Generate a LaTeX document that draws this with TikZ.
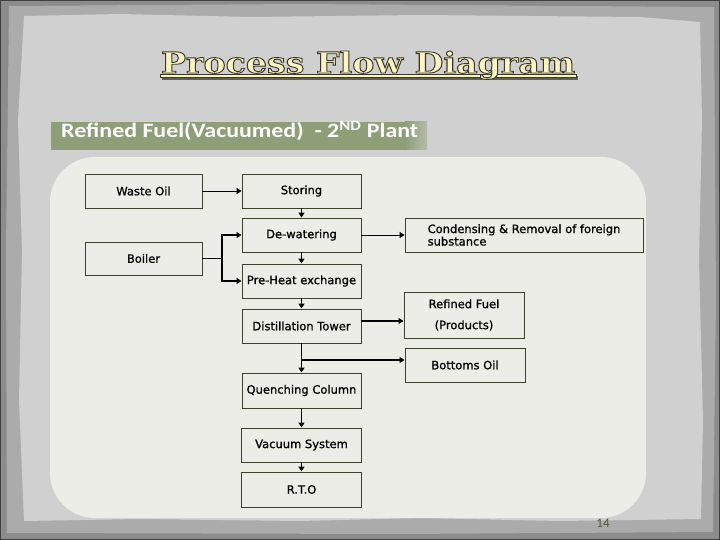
\documentclass[tikz,border=0pt]{standalone}
\usepackage{fontspec}
\usepackage{graphicx}
\setmainfont{DejaVu Sans}
\newfontfamily\boxfont{DejaVu Sans}[FakeBold=1]
\newfontfamily\titlefont{DejaVu Serif}
\newfontfamily\bannerfont{Carlito}
\usetikzlibrary{arrows.meta,calc}
\definecolor{outerg}{HTML}{8C8C8C}
\definecolor{midg}{HTML}{ABABAB}
\definecolor{paper}{HTML}{D0D0D0}
\definecolor{panel}{HTML}{ECEDE6}
\definecolor{boxline}{HTML}{3B4230}
\definecolor{cream}{HTML}{FCF5C2}
\definecolor{ttldark}{HTML}{3A382A}
\definecolor{bannerg}{HTML}{8E9F78}
\definecolor{bannerl}{HTML}{B4BBA8}
\definecolor{pagenum}{HTML}{4E533E}
\newbox\ttlbox
\newbox\bnrbox
\setbox\ttlbox=\hbox{\titlefont\bfseries\fontsize{29}{30}\selectfont Process Flow Diagram}
\setbox\bnrbox=\hbox{\bannerfont\bfseries\fontsize{20.5}{22}\selectfont Refined Fuel(Vacuumed)\ \ - 2\textsuperscript{ND} Plant}
\newcommand\ttlscaled{\scalebox{\fpeval{414/(\the\wd\ttlbox)}}[1]{\copy\ttlbox}}
\newcommand\bnrscaled{\scalebox{\fpeval{357/(\the\wd\bnrbox)}}[1]{\copy\bnrbox}}
\newcommand\outlined[1]{\special{pdf:literal direct 2 Tr 0.9 w 0.227 0.220 0.165 RG}#1\special{pdf:literal direct 0 Tr}}
\begin{document}
\begin{tikzpicture}[x=1pt,y=-1pt,
  box/.style={draw=boxline, line width=0.9pt, fill=panel, inner sep=0pt,
    font=\boxfont\fontsize{11.5}{13}\selectfont, text=black},
  sz/.style 2 args={minimum width=#1pt, minimum height=#2pt},
  flow/.style={line width=0.9pt, draw=black, -{Triangle[length=5pt,width=6pt]}},
  flowthick/.style={flow, line width=1.7pt},
  ttl/.style={inner sep=0pt, anchor=base}]
\useasboundingbox (0,0) rectangle (720,540);
% background
\fill[outerg] (0,0) rectangle (720,540);
\fill[midg] (9,6) -- (300,4) -- (714,7) -- (716,300) -- (713,532) -- (400,534) -- (7,533) -- (6,250) -- cycle;
\fill[paper] (24,16) -- (120,14) -- (250,17) -- (420,15) -- (640,17) -- (700,22) -- (702,120) -- (699,260) -- (703,420) -- (701,519)
  -- (560,521) -- (420,518) -- (300,521) -- (140,519) -- (24,521) -- (19,400) -- (22,250) -- (18,120) -- cycle;
\draw[black!75, line width=1.2pt] (0,0) rectangle (720,540);
% title
\fill[ttldark!80] (161.5,76.5) rectangle (577.5,80);
\filldraw[fill=cream, draw=ttldark, line width=0.5pt] (160,74) rectangle (576,77.5);
\node[ttl, text=cream] (title) at (368,73) {\outlined{\ttlscaled}};
% banner
\fill[bannerg] (51,122) rectangle (405,150);
\shade[left color=bannerg, right color=bannerl] (405,122) rectangle (427,150);
\node[inner sep=0pt, anchor=base west, text=white] (banner) at (61,138) {\bnrscaled};
% panel
\fill[panel, rounded corners=45pt] (50,157) rectangle (646,518);
% boxes
\node[box, sz={117}{34}] (waste) at (143.5,191) {Waste Oil};
\node[box, sz={119}{34}] (storing) at (301.5,191) {Storing};
\node[box, sz={119}{34}] (dewater) at (301.5,235) {De-watering};
\node[box, sz={117}{33}] (boiler) at (143.5,258.5) {Boiler};
\node[box, sz={119}{34}] (preheat) at (301.5,281) {Pre-Heat exchange};
\node[box, sz={119}{34}] (distil) at (301.5,326) {Distillation Tower};
\node[box, sz={119}{35}] (quench) at (301.5,390.5) {Quenching Column};
\node[box, sz={120}{34}] (vacuum) at (301.5,445) {Vacuum System};
\node[box, sz={120}{35}] (rto) at (301.5,489.5) {R.T.O};
\node[box, sz={238}{34}, align=left, font=\boxfont\fontsize{11.5}{12.5}\selectfont] (condense) at (524,235)
  {Condensing \& Removal of foreign\\substance};
\node[box, sz={120}{46}, align=center, font=\boxfont\fontsize{11.5}{21}\selectfont] (refined) at (464,315)
  {Refined Fuel\\(Products)};
\node[box, sz={120}{34}] (bottoms) at (465,365) {Bottoms Oil};
% connectors
\draw[flow] (waste) -- (storing);
\draw[flowthick] (storing) -- (dewater);
\draw[flow] (dewater) -- (condense);
\draw[flowthick] (dewater) -- (preheat);
\draw[flowthick] (preheat) -- (distil);
\coordinate (bj) at (222,258.5);
\draw[line width=1.7pt] (boiler.east) -- (bj);
\draw[flowthick] (bj) |- (dewater.west);
\draw[flowthick] (bj) |- (preheat.west);
\draw[flowthick] ([yshift=5pt]distil.east) -- ([yshift=5pt]distil.east -| refined.west);
\draw[flowthick] (distil) -- (quench);
\coordinate (br) at (301.5,360);
\draw[flowthick] (br) -- (br -| bottoms.west);
\draw[flowthick] (quench) -- (vacuum);
\draw[flowthick] (vacuum) -- (rto);
% page number
\node[text=pagenum, font=\bannerfont\fontsize{13}{14}\selectfont, inner sep=0pt] (pg) at (603,523) {14};
\end{tikzpicture}
\end{document}
